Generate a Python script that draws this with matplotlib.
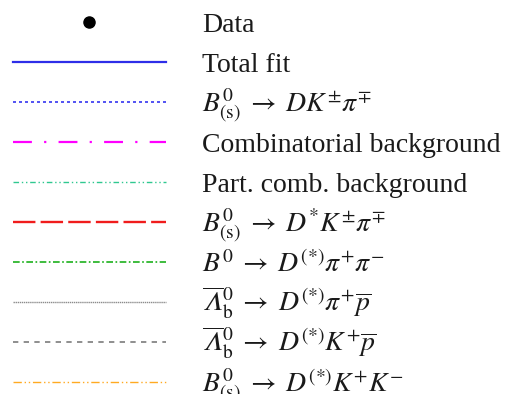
import matplotlib
matplotlib.use("Agg")
import matplotlib.pyplot as plt

plt.rcParams['font.family'] = ['Liberation Serif', 'DejaVu Serif']
plt.rcParams['mathtext.fontset'] = 'stix'

labels = [
    "Data",
    "Total fit",
    r"$B^0_{(\mathrm{s})} \;\rightarrow\; DK^{\pm}\pi^{\mp}$",
    "Combinatorial background",
    "Part. comb. background",
    r"$B^0_{(\mathrm{s})} \;\rightarrow\; D^{*}K^{\pm}\pi^{\mp}$",
    r"$B^0 \;\rightarrow\; D^{(*)}\pi^{+}\pi^{-}$",
    r"$\overline{𝛬}{}^0_{\mathrm{b}} \;\rightarrow\; D^{(*)}\pi^{+}\overline{p}$",
    r"$\overline{𝛬}{}^0_{\mathrm{b}} \;\rightarrow\; D^{(*)}K^{+}\overline{p}$",
    r"$B^0_{(\mathrm{s})} \;\rightarrow\; D^{(*)}K^{+}K^{-}$",
]
colors = ["black", "#2e2ee8", "#3535f0", "#ff00ff", "#30c890",
          "#f01c1c", "#1cb01c", "#8c8c8c", "#7c7c7c", "#ffaa22"]
styles = ["none", "-", (0, (1.8, 1.8)), (0, (8.5, 5.5, 1, 5.5)), (0, (4, 2, 1, 2, 1, 2)),
          (0, (9.5, 2.2)), (0, (4, 1.5, 1, 1.5)), (0, (1, 0.5)), (0, (3.2, 3.2)),
          (0, (6, 2, 1, 2, 1, 2))]
widths = [0, 1.6, 1.2, 1.6, 1.0, 1.7, 1.2, 1.0, 1.2, 1.0]

# layout, in pixels from the top-left corner
row0, row_step = 22, 40
line_x0, line_x1 = 13, 166
dot_x = 89
text_x, text_drop = 202, 10

fig = plt.figure(figsize=(5.08, 3.94), dpi=100)
ax = fig.add_axes([0, 0, 1, 1])
ax.set_xlim(0, 508)
ax.set_ylim(394, 0)
ax.axis('off')

for i, lab in enumerate(labels):
    y = row0 + i * row_step
    if i == 0:
        ax.plot([dot_x], [y], 'o', color=colors[i], markersize=8)
    else:
        ax.plot([line_x0, line_x1], [y, y], color=colors[i],
                linestyle=styles[i], linewidth=widths[i])
    ax.text(text_x, y + text_drop, lab, fontsize=20, va='baseline', ha='left',
            color='#1a1a1a')

fig.savefig("out.png", dpi=100)
